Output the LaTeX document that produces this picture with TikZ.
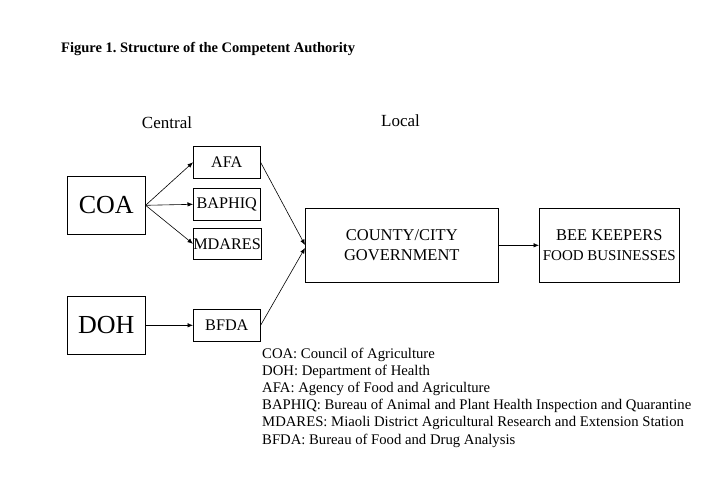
\documentclass[tikz,border=0pt]{standalone}
\usepackage{fontspec}
\setmainfont{Liberation Serif}
\usetikzlibrary{arrows.meta}
\frenchspacing
\begin{document}
\begin{tikzpicture}[x=1pt,y=-1pt,
  box/.style={draw,line width=0.6pt,inner sep=0pt,anchor=north west},
  arr/.style={-{Latex[length=5.5pt,width=4.5pt]},line width=0.6pt},
  leg/.style={anchor=base west,inner sep=0pt,font=\fontsize{14.7}{17}\selectfont},
  every node/.style={font=\fontsize{16.2}{18}\selectfont}]
\useasboundingbox (0,0) rectangle (720,498);
\node[anchor=base west,inner sep=0pt,font=\bfseries\fontsize{14.5}{16}\selectfont] (title) at (61,52) {Figure 1. Structure of the Competent Authority};
\node[anchor=base,inner sep=0pt,font=\fontsize{17}{18}\selectfont] (central) at (167,128) {Central};
\node[anchor=base,inner sep=0pt,font=\fontsize{17}{18}\selectfont] (local) at (400.5,126) {Local};
\node[box,minimum width=78pt,minimum height=58pt,font=\fontsize{26}{28}\selectfont] (coa) at (67,176) {COA};
\node[box,minimum width=78pt,minimum height=58pt,font=\fontsize{26}{28}\selectfont] (doh) at (67,296) {DOH};
\node[box,minimum width=67pt,minimum height=32pt] (afa) at (193,146) {AFA};
\node[box,minimum width=67pt,minimum height=32pt] (baphiq) at (193,188) {BAPHIQ};
\node[box,minimum width=67pt,minimum height=31pt] (mdares) at (193,228) {MDARES};
\node[box,minimum width=67pt,minimum height=32pt] (bfda) at (193,309) {BFDA};
\node[box,minimum width=193pt,minimum height=74pt,align=center,font=\fontsize{16.5}{20}\selectfont] (county) at (305,208) {COUNTY/CITY\\GOVERNMENT};
\node[box,minimum width=140pt,minimum height=74pt,align=center,font=\fontsize{16.4}{20}\selectfont] (bee) at (539,208) {BEE KEEPERS\\{\fontsize{15}{18}\selectfont FOOD BUSINESSES}};
\coordinate (cin1) at (305,245);
\coordinate (cin2) at (305,248);
\draw[arr] (coa.east) -- (afa.west);
\draw[arr] (coa.east) -- (baphiq.west);
\draw[arr] (coa.east) -- (mdares.west);
\draw[arr] (doh.east) -- (bfda.west);
\draw[arr] (afa.east) -- (cin1);
\draw[arr] (bfda.east) -- (cin2);
\draw[arr] (county.east) -- (bee.west);
\node[leg] (l1) at (262,358) {COA: Council of Agriculture};
\node[leg] (l2) at (262,375.2) {DOH: Department of Health};
\node[leg] (l3) at (262,392.4) {AFA: Agency of Food and Agriculture};
\node[leg] (l4) at (262,409.6) {BAPHIQ: Bureau of Animal and Plant Health Inspection and Quarantine};
\node[leg] (l5) at (262,426.8) {MDARES: Miaoli District Agricultural Research and Extension Station};
\node[leg] (l6) at (262,444) {BFDA: Bureau of Food and Drug Analysis};
\end{tikzpicture}
\end{document}
